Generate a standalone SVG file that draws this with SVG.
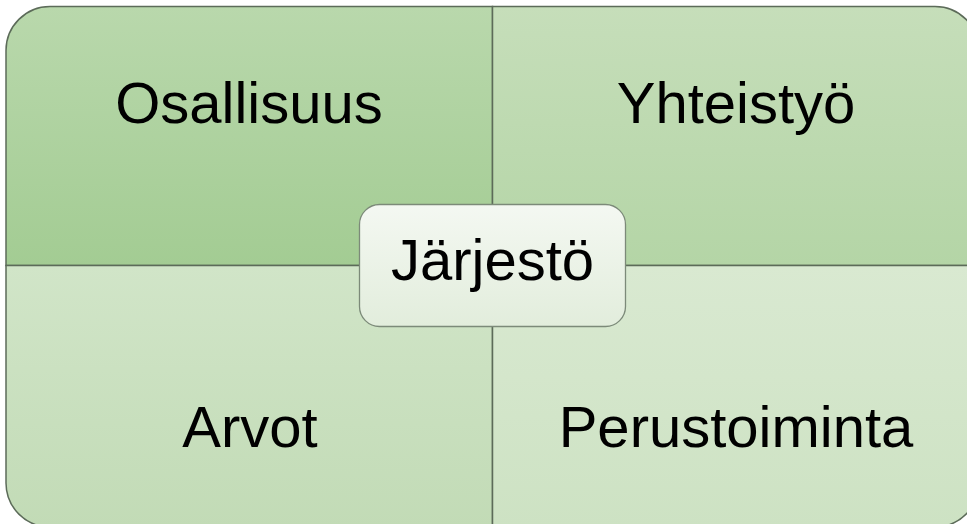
<svg xmlns="http://www.w3.org/2000/svg" width="967" height="524" viewBox="0 0 967 524">
  <defs>
    <linearGradient id="gTL" x1="0" y1="0" x2="0" y2="1">
      <stop offset="0" stop-color="#b9d8ac"/>
      <stop offset="1" stop-color="#a3cc93"/>
    </linearGradient>
    <linearGradient id="gTR" x1="0" y1="0" x2="0" y2="1">
      <stop offset="0" stop-color="#c6deba"/>
      <stop offset="1" stop-color="#b4d5a6"/>
    </linearGradient>
    <linearGradient id="gBL" x1="0" y1="0" x2="0" y2="1">
      <stop offset="0" stop-color="#d1e5c8"/>
      <stop offset="1" stop-color="#c2dbb6"/>
    </linearGradient>
    <linearGradient id="gBR" x1="0" y1="0" x2="0" y2="1">
      <stop offset="0" stop-color="#d9e9d1"/>
      <stop offset="1" stop-color="#cde2c3"/>
    </linearGradient>
    <linearGradient id="gC" x1="0" y1="0" x2="0" y2="1">
      <stop offset="0" stop-color="#f4f8f2"/>
      <stop offset="1" stop-color="#e2eddc"/>
    </linearGradient>
  </defs>
  <style>
    .q { stroke: #5c6b59; stroke-width: 1.5; }
    .lbl { font-family: "Liberation Sans", Arial, sans-serif; font-size: 58px; fill: #000; text-anchor: middle; }
  </style>
  <g id="quad-osallisuus">
    <path class="q" fill="url(#gTL)" d="M6,265.5 V50.5 A44,44 0 0 1 50,6.5 H492.5 V265.5 Z"/>
    <text class="lbl" x="249" y="123">Osallisuus</text>
  </g>
  <g id="quad-yhteistyo">
    <path class="q" fill="url(#gTR)" d="M492.5,6.5 H935 A44,44 0 0 1 979,50.5 V265.5 H492.5 Z"/>
    <text class="lbl" x="736" y="123">Yhteistyö</text>
  </g>
  <g id="quad-arvot">
    <path class="q" fill="url(#gBL)" d="M6,265.5 H492.5 V527 H50 A44,44 0 0 1 6,483 Z"/>
    <text class="lbl" x="250" y="447">Arvot</text>
  </g>
  <g id="quad-perustoiminta">
    <path class="q" fill="url(#gBR)" d="M492.5,265.5 H979 V483 A44,44 0 0 1 935,527 H492.5 Z"/>
    <text class="lbl" x="736" y="447">Perustoiminta</text>
  </g>
  <g id="center-jarjesto">
    <rect x="359.5" y="204.5" width="266" height="122" rx="20" fill="url(#gC)" stroke="#7c8a79" stroke-width="1.3"/>
    <text class="lbl" x="492.5" y="280">Järjestö</text>
  </g>
</svg>
